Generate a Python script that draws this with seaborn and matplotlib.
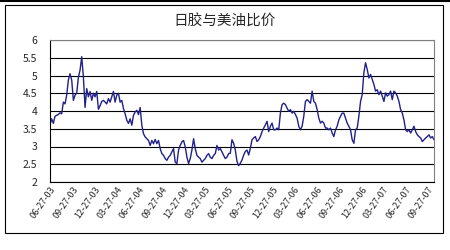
import matplotlib
matplotlib.use("Agg")
import matplotlib.pyplot as plt
import matplotlib.dates as mdates
import matplotlib.transforms as mtransforms
from matplotlib.patches import Rectangle
from matplotlib.lines import Line2D
import numpy as np
import pandas as pd
import seaborn as sns

title = "日胶与美油比价"
start_date = "2003-06-27"
end_date = "2007-10-23"
ratio = [
    3.62, 3.78, 3.65, 3.85, 3.88, 3.90, 3.95, 3.92, 4.25, 4.20,
    4.45, 4.87, 5.05, 4.87, 4.30, 4.45, 4.50, 4.95, 5.15, 5.53,
    4.96, 4.10, 4.63, 4.40, 4.55, 4.30, 4.50, 4.40, 4.55, 4.05,
    4.15, 4.27, 4.30, 4.25, 4.20, 4.35, 4.25, 4.40, 4.55, 4.25,
    4.45, 4.50, 4.25, 4.30, 4.07, 3.92, 3.74, 3.65, 3.78, 3.60,
    3.88, 3.97, 4.02, 3.90, 4.10, 3.60, 3.36, 3.27, 3.22, 3.17,
    3.03, 3.17, 3.08, 3.20, 3.08, 3.17, 2.94, 2.80, 2.75, 2.66,
    2.61, 2.70, 2.75, 2.85, 2.94, 2.56, 2.52, 2.90, 3.03, 3.13,
    3.17, 2.99, 2.70, 2.52, 2.66, 2.90, 3.22, 2.94, 2.75, 2.70,
    2.66, 2.56, 2.61, 2.66, 2.75, 2.80, 2.70, 2.66, 2.75, 2.80,
    3.03, 2.90, 2.94, 2.85, 2.75, 2.66, 2.70, 2.80, 2.81, 3.19,
    3.09, 2.90, 2.58, 2.46, 2.53, 2.62, 2.76, 2.86, 2.90, 2.76,
    2.95, 3.19, 3.24, 3.28, 3.14, 3.19, 3.28, 3.42, 3.52, 3.61,
    3.71, 3.42, 3.57, 3.66, 3.47, 3.47, 3.52, 3.47, 3.94, 4.18,
    4.22, 4.18, 4.08, 3.99, 4.04, 3.94, 3.99, 3.90, 3.80, 3.57,
    3.47, 3.57, 3.85, 4.27, 4.32, 4.27, 4.22, 4.56, 4.27, 4.22,
    4.04, 3.80, 3.66, 3.71, 3.66, 3.52, 3.52, 3.47, 3.52, 3.38,
    3.28, 3.47, 3.57, 3.75, 3.85, 3.94, 3.94, 3.80, 3.66, 3.57,
    3.47, 3.19, 3.09, 3.47, 3.52, 3.85, 4.27, 4.46, 5.08, 5.36,
    5.17, 4.93, 5.03, 4.89, 4.75, 4.56, 4.60, 4.46, 4.56, 4.42,
    4.27, 4.51, 4.42, 4.46, 4.56, 4.32, 4.56, 4.51, 4.42, 4.27,
    4.04, 3.94, 3.75, 3.47, 3.42, 3.47, 3.38, 3.47, 3.57, 3.42,
    3.33, 3.28, 3.24, 3.14, 3.19, 3.24, 3.28, 3.33, 3.24, 3.28,
    3.19,
]
tick_dates = ["2003-06-27", "2003-09-27", "2003-12-27", "2004-03-27", "2004-06-27",
              "2004-09-27", "2004-12-27", "2005-03-27", "2005-06-27", "2005-09-27",
              "2005-12-27", "2006-03-27", "2006-06-27", "2006-09-27", "2006-12-27",
              "2007-03-27", "2007-06-27", "2007-09-27"]
y_ticks = [2, 2.5, 3, 3.5, 4, 4.5, 5, 5.5, 6]
y_labels = ["2", "2.5", "3", "3.5", "4", "4.5", "5", "5.5", "6"]

sns.set_style("white")
plt.rcParams["font.family"] = ["Noto Sans CJK SC", "DejaVu Sans"]

dates = pd.date_range(start_date, end_date, periods=len(ratio))
df = pd.DataFrame({"date": dates, "ratio": ratio})

fig = plt.figure(figsize=(4.5, 2.5), dpi=100)
ax = fig.add_axes([50 / 450, 1 - 182 / 250, 384 / 450, 142 / 250])

sns.lineplot(data=df, x="date", y="ratio", ax=ax, color="#20208a", linewidth=1.0)

ax.set_ylim(2, 6)
ax.set_xlim(dates[0], dates[-1])
ax.set_yticks(y_ticks)
ax.set_yticklabels(y_labels, fontsize=7.5)
ax.yaxis.grid(True, color="black", linewidth=0.8)
ax.set_axisbelow(True)
ax.set_xlabel("")
ax.set_ylabel("")

tds = pd.to_datetime(tick_dates)
ax.set_xticks(tds)
ax.set_xticklabels([d.strftime("%m-%d-%y") for d in tds], fontsize=6.5,
                   rotation=55, ha="right", va="top", rotation_mode="anchor")
offset = mtransforms.ScaledTranslation(-14 / 100, -4 / 100, fig.dpi_scale_trans)
for lab in ax.get_xticklabels():
    lab.set_transform(lab.get_transform() + offset)

ax.tick_params(axis="x", direction="in", length=3, width=0.8, color="black", pad=2)
ax.tick_params(axis="y", direction="out", length=3, width=0.8, color="black", pad=6)
for side in ["left", "bottom"]:
    ax.spines[side].set_color("black")
    ax.spines[side].set_linewidth(0.8)
for side in ["top", "right"]:
    ax.spines[side].set_color("#808080")
    ax.spines[side].set_linewidth(0.8)

fig.text(0.5, 1 - 22 / 250, title, ha="center", va="center", fontsize=10.5)

fig.patches.append(Rectangle((5 / 450, 1 - 233 / 250), 438 / 450, 228 / 250,
                             transform=fig.transFigure, fill=False,
                             edgecolor="black", linewidth=0.8))
fig.lines.append(Line2D([0, 1], [0.997, 0.997], transform=fig.transFigure,
                        color="black", linewidth=1.5))

fig.savefig("out.png", dpi=100)
